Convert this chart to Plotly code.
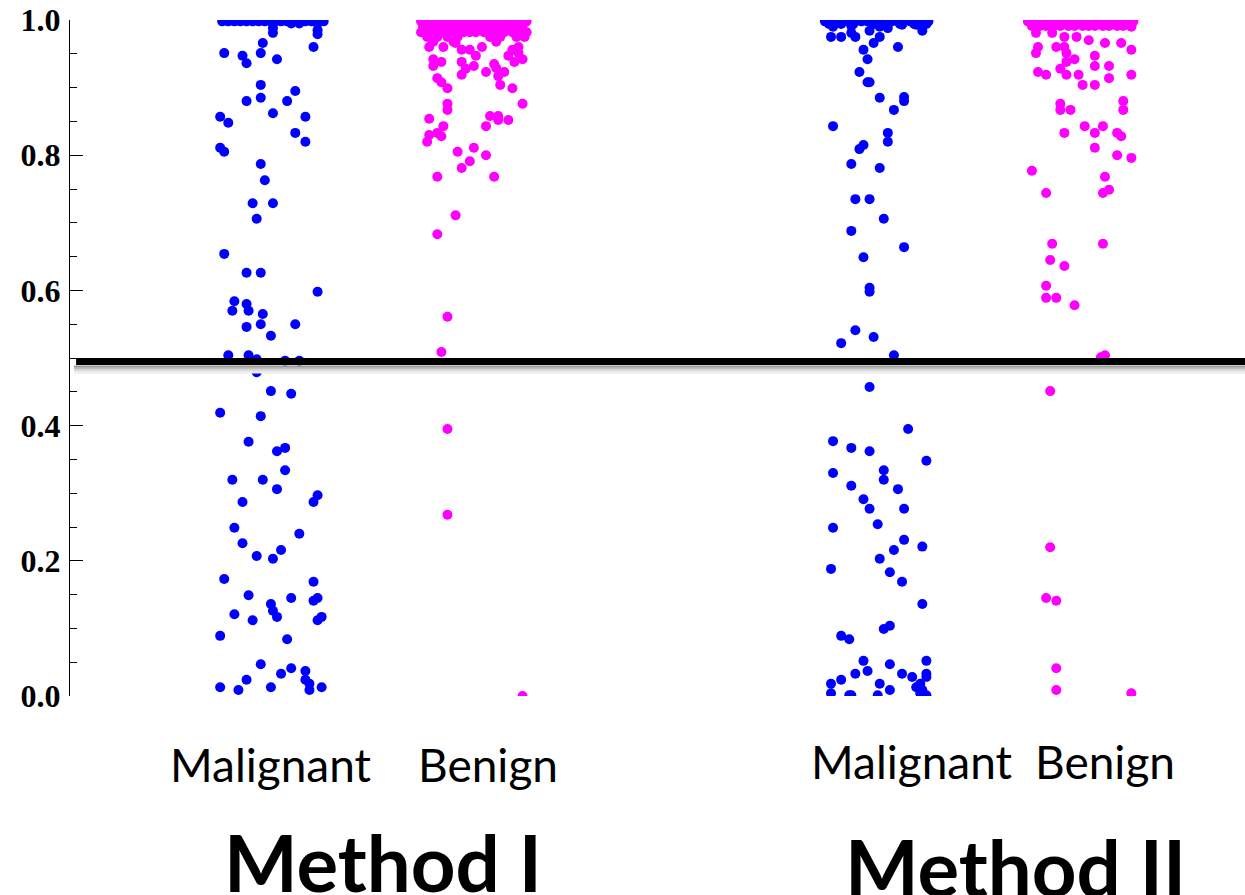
import plotly.graph_objects as go

# ---------------- data ----------------
methods = ["Method I", "Method II"]
categories = ["Malignant", "Benign", "Malignant", "Benign"]
group_pos = [1, 2, 4, 5]
threshold = 0.495
y_ticks = [0.0, 0.2, 0.4, 0.6, 0.8, 1.0]

# (jitter, score) pairs
malignant_I = [
    (-0.24, 0.998), (-0.21, 0.998), (-0.18, 0.998), (-0.15, 0.998), (-0.12, 0.998), (-0.09, 0.998),
    (-0.06, 0.998), (-0.03, 0.998), (0.00, 0.998), (0.02, 0.998), (0.05, 0.998), (0.08, 0.998),
    (0.11, 0.998), (0.14, 0.998), (0.17, 0.998), (0.20, 0.998), (0.23, 0.998), (0.26, 0.998),
    (0.01, 0.995), (0.10, 0.995), (0.14, 0.995), (0.23, 0.995),
    (0.01, 0.988), (0.01, 0.981), (0.23, 0.985), (0.23, 0.979), (-0.04, 0.966), (0.21, 0.960),
    (-0.23, 0.951), (-0.14, 0.947), (-0.12, 0.936), (-0.05, 0.951), (0.03, 0.942), (-0.05, 0.904),
    (0.12, 0.895), (-0.12, 0.880), (-0.05, 0.885), (0.08, 0.880), (0.01, 0.862), (-0.25, 0.857),
    (-0.21, 0.848), (0.17, 0.857), (0.12, 0.833), (0.17, 0.820), (-0.25, 0.811), (-0.23, 0.805),
    (-0.05, 0.787), (-0.03, 0.763), (-0.09, 0.729), (0.01, 0.729), (-0.07, 0.706),
    (-0.23, 0.654), (-0.12, 0.626), (-0.05, 0.626), (0.23, 0.598), (-0.18, 0.584), (-0.12, 0.580),
    (-0.19, 0.570), (-0.11, 0.570), (-0.04, 0.565), (-0.12, 0.546), (-0.05, 0.550), (0.12, 0.550),
    (0.00, 0.533), (-0.21, 0.504), (-0.11, 0.504), (-0.07, 0.498), (0.07, 0.496), (0.14, 0.496),
    (-0.07, 0.479), (0.00, 0.451), (0.10, 0.447), (-0.25, 0.419), (-0.05, 0.414), (-0.11, 0.376),
    (0.03, 0.362), (0.07, 0.367), (0.07, 0.334), (-0.19, 0.320), (-0.04, 0.320), (0.03, 0.306),
    (0.23, 0.297), (0.21, 0.287), (-0.14, 0.287), (-0.18, 0.249), (0.14, 0.240), (-0.14, 0.226),
    (0.05, 0.216), (-0.07, 0.207), (0.01, 0.203), (-0.23, 0.173), (0.21, 0.169), (-0.11, 0.149),
    (0.10, 0.145), (0.23, 0.145), (0.21, 0.141), (0.00, 0.136), (0.01, 0.126), (0.03, 0.117),
    (-0.18, 0.121), (-0.09, 0.112), (0.25, 0.117), (0.23, 0.112), (-0.25, 0.089), (0.08, 0.084),
    (-0.05, 0.047), (0.10, 0.041), (0.05, 0.033), (0.17, 0.037), (-0.12, 0.024), (0.17, 0.024),
    (0.19, 0.018), (-0.25, 0.013), (-0.16, 0.009), (0.00, 0.013), (0.19, 0.009), (0.25, 0.013),
]

benign_I = [
    (-0.26, 0.998), (-0.23, 0.998), (-0.19, 0.998), (-0.16, 0.998), (-0.12, 0.998), (-0.09, 0.998),
    (-0.05, 0.998), (-0.02, 0.998), (0.01, 0.998), (0.05, 0.998), (0.08, 0.998), (0.12, 0.998),
    (0.15, 0.998), (0.19, 0.998), (0.22, 0.998), (0.26, 0.998),
    (-0.25, 0.990), (-0.21, 0.990), (-0.18, 0.990), (-0.14, 0.990), (-0.11, 0.990), (-0.07, 0.990),
    (-0.04, 0.990), (0.00, 0.990), (0.03, 0.990), (0.07, 0.990), (0.10, 0.990), (0.14, 0.990),
    (0.17, 0.990), (0.21, 0.990), (0.24, 0.990),
    (-0.26, 0.982), (-0.23, 0.982), (-0.19, 0.982), (-0.16, 0.982), (-0.12, 0.982), (-0.09, 0.982),
    (-0.05, 0.982), (-0.02, 0.982), (0.01, 0.982), (0.05, 0.982), (0.08, 0.982), (0.12, 0.982),
    (0.15, 0.982), (0.19, 0.982), (0.22, 0.982), (0.26, 0.982),
    (-0.23, 0.975), (-0.18, 0.975), (-0.13, 0.975), (-0.08, 0.975), (0.08, 0.975), (0.13, 0.975),
    (0.21, 0.975), (0.25, 0.975), (-0.20, 0.968), (-0.10, 0.968), (0.11, 0.968),
    (-0.22, 0.960), (-0.15, 0.960), (-0.09, 0.966), (-0.06, 0.956), (-0.02, 0.956), (0.04, 0.960),
    (0.01, 0.947), (0.19, 0.956), (0.22, 0.960), (0.22, 0.951), (0.17, 0.947), (-0.20, 0.942),
    (-0.16, 0.938), (-0.20, 0.932), (0.20, 0.938), (0.24, 0.942), (-0.06, 0.938), (0.00, 0.932),
    (0.10, 0.935), (-0.04, 0.928), (0.06, 0.923), (0.11, 0.929), (0.15, 0.923), (0.12, 0.917),
    (-0.06, 0.919), (-0.18, 0.914), (-0.16, 0.908), (-0.13, 0.899), (0.13, 0.904), (0.19, 0.899),
    (-0.13, 0.876), (-0.13, 0.867), (0.24, 0.876), (-0.22, 0.854), (0.08, 0.858), (0.12, 0.858),
    (0.12, 0.852), (0.17, 0.852), (-0.15, 0.843), (0.06, 0.843), (-0.22, 0.830), (-0.18, 0.833),
    (-0.16, 0.828), (-0.23, 0.820), (-0.08, 0.805), (0.00, 0.811), (0.06, 0.800), (-0.02, 0.791),
    (-0.06, 0.781), (-0.18, 0.768), (0.10, 0.768), (-0.09, 0.711), (-0.18, 0.683), (-0.13, 0.561),
    (-0.16, 0.509), (-0.13, 0.395), (-0.13, 0.268), (0.24, 0.000),
]

malignant_II = [
    (-0.27, 0.998), (-0.24, 0.998), (-0.21, 0.998), (-0.18, 0.998), (-0.15, 0.998), (-0.12, 0.998),
    (-0.09, 0.998), (-0.06, 0.998), (-0.03, 0.998), (0.00, 0.998), (0.03, 0.998), (0.06, 0.998),
    (0.09, 0.998), (0.12, 0.998), (0.15, 0.998), (0.18, 0.998), (0.21, 0.998), (0.24, 0.998),
    (-0.25, 0.994), (-0.19, 0.994), (-0.13, 0.994), (-0.03, 0.994), (0.04, 0.994), (0.10, 0.994),
    (0.17, 0.994), (0.23, 0.994),
    (-0.23, 0.990), (-0.14, 0.991), (-0.05, 0.984), (0.00, 0.990), (0.04, 0.988), (0.11, 0.993),
    (0.18, 0.993), (0.21, 0.984), (-0.24, 0.975), (-0.19, 0.975), (-0.14, 0.981), (-0.12, 0.975),
    (0.00, 0.975), (-0.03, 0.966), (0.09, 0.960), (-0.08, 0.956), (-0.06, 0.942), (-0.10, 0.923),
    (-0.06, 0.908), (-0.05, 0.908), (0.00, 0.885), (0.12, 0.886), (0.12, 0.880), (0.07, 0.867),
    (-0.23, 0.843), (0.04, 0.833), (0.04, 0.820), (-0.08, 0.815), (-0.10, 0.809), (-0.14, 0.787),
    (0.00, 0.781), (-0.12, 0.735), (-0.05, 0.735), (0.02, 0.706), (-0.14, 0.688), (0.12, 0.664),
    (-0.08, 0.649), (-0.05, 0.604), (-0.05, 0.598), (-0.12, 0.541), (-0.19, 0.522), (-0.03, 0.531),
    (0.07, 0.504), (-0.05, 0.457), (0.14, 0.395), (-0.23, 0.377), (-0.14, 0.367), (-0.05, 0.362),
    (0.23, 0.348), (-0.23, 0.330), (0.02, 0.334), (0.02, 0.320), (-0.14, 0.311), (0.09, 0.306),
    (-0.08, 0.291), (-0.05, 0.277), (0.12, 0.277), (-0.23, 0.249), (-0.01, 0.254), (0.12, 0.231),
    (0.07, 0.216), (0.21, 0.221), (0.00, 0.203), (-0.24, 0.188), (0.05, 0.183), (0.11, 0.169),
    (0.21, 0.136), (0.02, 0.099), (0.05, 0.104), (-0.19, 0.089), (-0.15, 0.084), (-0.08, 0.052),
    (0.05, 0.047), (0.23, 0.052), (-0.12, 0.033), (-0.06, 0.037), (0.11, 0.033), (0.16, 0.028),
    (0.23, 0.033), (0.23, 0.028), (-0.19, 0.024), (-0.24, 0.018), (0.00, 0.018), (0.18, 0.013),
    (0.20, 0.018), (0.21, 0.009), (0.05, 0.009), (-0.24, 0.004), (-0.15, 0.001), (-0.14, 0.001),
    (-0.01, 0.001), (0.20, 0.004), (0.23, 0.001),
]

benign_II = [
    (-0.27, 0.998), (-0.23, 0.998), (-0.20, 0.998), (-0.16, 0.998), (-0.13, 0.998), (-0.09, 0.998),
    (-0.06, 0.998), (-0.02, 0.998), (0.01, 0.998), (0.04, 0.998), (0.08, 0.998), (0.11, 0.998),
    (0.15, 0.998), (0.18, 0.998), (0.22, 0.998), (0.25, 0.998),
    (-0.25, 0.991), (-0.21, 0.991), (-0.18, 0.991), (-0.14, 0.991), (-0.11, 0.991), (-0.07, 0.991),
    (-0.04, 0.991), (0.00, 0.991), (0.03, 0.991), (0.06, 0.991), (0.10, 0.991), (0.13, 0.991),
    (0.17, 0.991), (0.20, 0.991), (0.24, 0.991),
    (-0.23, 0.981), (-0.15, 0.981), (-0.09, 0.975), (-0.03, 0.975), (0.03, 0.970), (0.11, 0.966),
    (0.19, 0.966), (0.24, 0.990), (-0.22, 0.960), (-0.23, 0.951), (-0.13, 0.960), (-0.09, 0.960),
    (-0.08, 0.951), (0.24, 0.956), (0.06, 0.947), (-0.04, 0.942), (-0.08, 0.938), (0.06, 0.932),
    (0.13, 0.932), (-0.11, 0.928), (-0.22, 0.923), (-0.18, 0.919), (-0.08, 0.919), (-0.02, 0.919),
    (0.13, 0.914), (0.24, 0.919), (0.00, 0.904), (0.06, 0.904), (-0.11, 0.876), (-0.11, 0.867),
    (-0.06, 0.867), (0.20, 0.880), (0.20, 0.867), (0.01, 0.843), (0.10, 0.843), (-0.09, 0.833),
    (0.06, 0.833), (0.17, 0.833), (0.19, 0.828), (0.06, 0.811), (0.17, 0.800), (0.24, 0.796),
    (-0.25, 0.777), (0.11, 0.768), (-0.18, 0.744), (0.10, 0.744), (0.13, 0.749), (-0.15, 0.669),
    (0.10, 0.669), (-0.16, 0.645), (-0.09, 0.636), (-0.18, 0.607), (-0.18, 0.589), (-0.13, 0.589),
    (-0.04, 0.578), (0.11, 0.504), (0.09, 0.501), (-0.16, 0.451), (-0.16, 0.220), (-0.18, 0.145),
    (-0.13, 0.141), (-0.13, 0.041), (-0.13, 0.009), (0.24, 0.004),
]

groups = [malignant_I, benign_I, malignant_II, benign_II]
group_colors = ["#0000FF", "#FF00FF", "#0000FF", "#FF00FF"]

# ---------------- figure ----------------
fig = go.Figure()
for pts, pos, col in zip(groups, group_pos, group_colors):
    fig.add_trace(go.Scatter(
        x=[pos + j for j, _ in pts],
        y=[v for _, v in pts],
        mode="markers",
        marker=dict(color=col, size=10, line=dict(width=0)),
        cliponaxis=True,
        showlegend=False,
        hoverinfo="y",
    ))

# threshold line with soft shadow
x0_line, x1_line = 0.04, 5.80
shadow = [("#9a9a9a", 0.0078), ("#bdbdbd", 0.0105), ("#d8d8d8", 0.0133), ("#ededed", 0.0160)]
for colr, off in shadow:
    fig.add_shape(type="line", xref="x", yref="y", x0=x0_line - 0.01, x1=x1_line,
                  y0=threshold - off, y1=threshold - off,
                  line=dict(color=colr, width=2.5), layer="above")
fig.add_shape(type="line", xref="x", yref="y", x0=x0_line, x1=x1_line,
              y0=threshold, y1=threshold, line=dict(color="black", width=7), layer="above")

# text positions (pixel rows converted to paper coordinates of the plot area)
def paper_y(py):
    return 1 - (py - 20) / 676

cat_label_x = [1.0, 2.07, 4.16, 5.11]
cat_label_py = [764, 764, 761, 761]
for txt, xc, py in zip(categories, cat_label_x, cat_label_py):
    fig.add_annotation(text=txt, x=xc, xref="x", y=paper_y(py), yref="paper",
                       yanchor="middle", showarrow=False,
                       font=dict(family="Lato", size=46, color="black"))
method_x = [1.55, 4.67]
method_py = [862, 867]
for txt, xc, py in zip(methods, method_x, method_py):
    fig.add_annotation(text="<b>" + txt + "</b>", x=xc, xref="x", y=paper_y(py), yref="paper",
                       yanchor="middle", showarrow=False,
                       font=dict(family="Lato", size=78, color="black"))

fig.update_xaxes(range=[0.01, 5.80], visible=False, showgrid=False, zeroline=False, automargin=False)
fig.update_yaxes(
    range=[0, 1], showgrid=False, zeroline=False, automargin=False,
    showline=True, linecolor="black", linewidth=1.2,
    ticks="inside", ticklen=13, tickwidth=1.2, tickcolor="black",
    tickvals=y_ticks, ticktext=["<b>" + f"{t:.1f}" + "</b>" for t in y_ticks],
    tickfont=dict(family="Liberation Serif", size=32, color="black"),
    ticklabelstandoff=2,
    minor=dict(ticks="inside", ticklen=7, tickwidth=1, tickcolor="black", dtick=0.05, showgrid=False),
)
fig.update_layout(
    width=1245, height=895,
    margin=dict(l=70, r=0, t=20, b=199),
    plot_bgcolor="white", paper_bgcolor="white",
)
fig.write_html("out.html", config={"displayModeBar": False},
               post_script="document.body.style.margin='0';document.body.style.overflow='hidden';")
